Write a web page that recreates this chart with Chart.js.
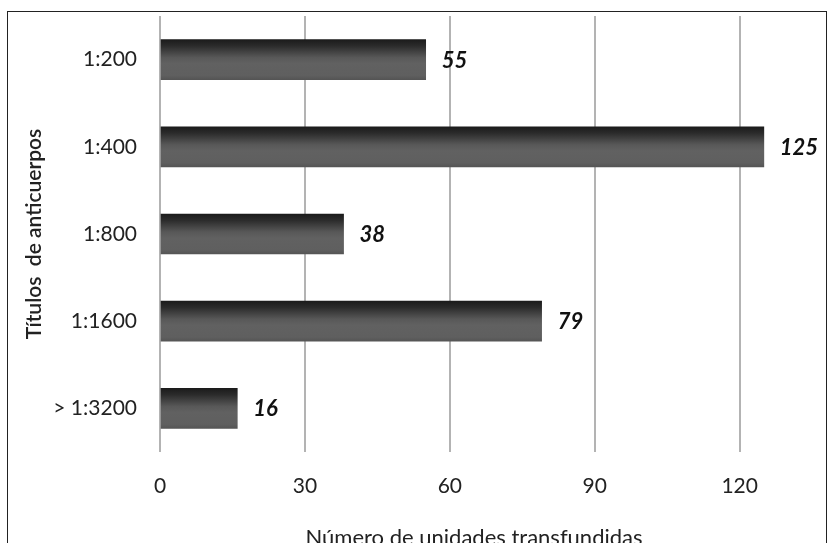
<!DOCTYPE html>
<html>
<head>
<meta charset="utf-8">
<script src="https://cdn.jsdelivr.net/npm/chart.js@4.4.1/dist/chart.umd.min.js"></script>
<style>
    html, body { margin: 0; padding: 0; background: #fff; overflow: hidden; }
    #frame {
        position: absolute;
        left: 7px;
        top: 11px;
        width: 818px;
        height: 545px;
        border: 1px solid #222;
    }
    #chartBox { position: absolute; left: 0; top: 0; width: 818px; height: 540px; }
</style>
</head>
<body>
<div id="frame">
    <div id="chartBox"><canvas id="titersChart"></canvas></div>
</div>
<script>
// Data
const categories = ['1:200', '1:400', '1:800', '1:1600', '> 1:3200'];
const units = [55, 125, 38, 79, 16];
const xTicks = [0, 30, 60, 90, 120];

const FONT = 'Lato, "Open Sans", sans-serif';
const BAR_H = 40;

// vertical gradient for each bar, dark on top
function barGradient(ctx) {
    const chart = ctx.chart;
    const yScale = chart.scales.y;
    if (!yScale || ctx.dataIndex === undefined) return '#5e5e5e';
    const yc = yScale.getPixelForValue(ctx.dataIndex);
    if (!isFinite(yc)) return '#5e5e5e';
    const g = chart.ctx.createLinearGradient(0, yc - BAR_H / 2, 0, yc + BAR_H / 2);
    g.addColorStop(0, '#1b1b1b');
    g.addColorStop(0.15, '#2a2a2a');
    g.addColorStop(0.45, '#585858');
    g.addColorStop(0.6, '#616161');
    g.addColorStop(0.9, '#5f5f5f');
    g.addColorStop(1, '#555555');
    return g;
}

// bold italic value labels right of the bars
const valueLabels = {
    id: 'valueLabels',
    afterDatasetsDraw(chart) {
        const ctx = chart.ctx;
        const meta = chart.getDatasetMeta(0);
        ctx.save();
        ctx.font = 'italic bold 22px ' + FONT;
        ctx.fillStyle = '#111';
        ctx.textAlign = 'left';
        ctx.textBaseline = 'middle';
        meta.data.forEach((bar, i) => {
            ctx.fillText(String(units[i]), bar.x + 16, bar.y + 1);
        });
        ctx.restore();
    }
};

const chartCtx = document.getElementById('titersChart').getContext('2d');
new Chart(chartCtx, {
    type: 'bar',
    data: {
        labels: categories,
        datasets: [{
            label: 'Unidades',
            data: units,
            backgroundColor: barGradient,
            borderWidth: 0,
            barThickness: BAR_H
        }]
    },
    options: {
        indexAxis: 'y',
        responsive: true,
        maintainAspectRatio: false,
        animation: false,
        layout: {
            padding: { left: 0, right: 38, top: 4, bottom: 0 }
        },
        plugins: {
            legend: { display: false },
            tooltip: { enabled: false }
        },
        scales: {
            x: {
                min: 0,
                max: 130,
                afterBuildTicks(scale) {
                    scale.ticks = xTicks.map(v => ({ value: v }));
                },
                afterFit(scale) {
                    scale.height = 100;
                    scale.paddingLeft = 0;
                    scale.paddingRight = 0;
                },
                grid: {
                    color: '#b3b3b3',
                    lineWidth: 2,
                    drawTicks: false
                },
                border: { display: false },
                ticks: {
                    color: '#222',
                    padding: 22,
                    font: { family: FONT, size: 21 }
                },
                title: {
                    display: true,
                    text: 'Número de unidades transfundidas',
                    color: '#222',
                    padding: { top: 0, bottom: 1 },
                    font: { family: FONT, size: 22 }
                }
            },
            y: {
                afterFit(scale) {
                    scale.width = 152;
                    scale.paddingTop = 0;
                    scale.paddingBottom = 0;
                },
                grid: { display: false, drawTicks: false },
                border: { display: false },
                ticks: {
                    color: '#222',
                    padding: 23,
                    font: { family: FONT, size: 21 }
                },
                title: {
                    display: true,
                    text: 'Títulos  de anticuerpos',
                    color: '#222',
                    padding: { top: 14, bottom: 0 },
                    font: { family: FONT, size: 21, weight: '600' }
                }
            }
        }
    },
    plugins: [valueLabels]
});
</script>
</body>
</html>
